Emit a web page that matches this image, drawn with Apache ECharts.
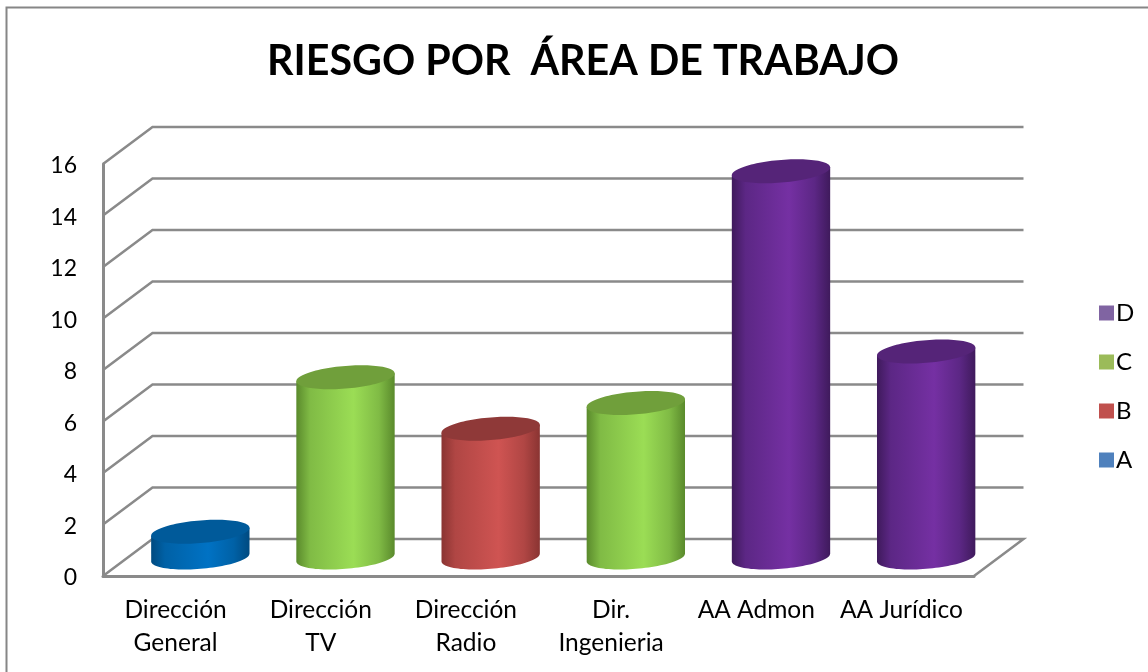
<!DOCTYPE html>
<html lang="es">
<head>
    <meta charset="UTF-8">
    <title>Riesgo por área de trabajo</title>
    <script src="https://cdn.jsdelivr.net/npm/echarts@6/dist/echarts.min.js"></script>
    <style>
        html, body { margin: 0; padding: 0; background: #fff; }
    </style>
</head>
<body>
    <div id="myChart" style="width:1148px;height:672px;"></div>
    <script>
        // datos
        var categories = ['Dirección\nGeneral', 'Dirección\nTV', 'Dirección\nRadio', 'Dir.\nIngenieria', 'AA Admon', 'AA Jurídico'];
        var yTicks = [0, 2, 4, 6, 8, 10, 12, 14, 16];
        var valuesA = [1, null, null, null, null, null];
        var valuesB = [null, null, 5, null, null, null];
        var valuesC = [null, 7, null, 6, null, null];
        var valuesD = [null, null, null, null, 15, 8];

        // profundidad del "3D" en pixeles
        var depthX = 49.5;
        var depthY = 37;
        var radius = 46.5;
        var rimX = 16;
        var rimY = 12;
        var font = 'Lato';
        var lineColor = '#8a8a8a';

        var chart = echarts.init(document.getElementById('myChart'));

        function rimPoint(cx, cy, t) {
            return [cx + radius * Math.cos(t) + rimX * Math.sin(t), cy - rimY * Math.sin(t)];
        }

        function cylinderItem(colors) {
            return function (params, api) {
                var v = api.value(1);
                if (v == null || isNaN(v)) return null;
                var base = api.coord([api.value(0), 0]);
                var top = api.coord([api.value(0), v]);
                var cx = base[0] + depthX / 2;
                var by = base[1] - depthY / 2;
                var ty = top[1] - depthY / 2;
                var t0 = Math.atan2(rimX, radius);
                var body = [];
                var cap = [];
                var i;
                body.push(rimPoint(cx, ty, t0 + Math.PI));
                for (i = 0; i <= 48; i++) {
                    body.push(rimPoint(cx, by, t0 + Math.PI + Math.PI * i / 48));
                }
                body.push(rimPoint(cx, ty, t0));
                for (i = 0; i < 96; i++) {
                    cap.push(rimPoint(cx, ty, Math.PI * 2 * i / 96));
                }
                return {
                    type: 'group',
                    children: [{
                        type: 'polygon',
                        shape: { points: body },
                        style: {
                            fill: new echarts.graphic.LinearGradient(0, 0, 1, 0, [
                                { offset: 0, color: colors.edge },
                                { offset: 0.14, color: colors.mid },
                                { offset: 0.58, color: colors.light },
                                { offset: 0.84, color: colors.mid },
                                { offset: 1, color: colors.edge }
                            ])
                        }
                    }, {
                        type: 'polygon',
                        shape: { points: cap },
                        style: { fill: colors.cap }
                    }]
                };
            };
        }

        function cylinderSeries(name, values, legendColor, colors) {
            return {
                name: name,
                type: 'custom',
                coordinateSystem: 'cartesian2d',
                clip: false,
                z: 5,
                itemStyle: { color: legendColor },
                encode: { x: 0, y: 1 },
                data: values.map(function (v, i) { return [i, v]; }),
                renderItem: cylinderItem(colors)
            };
        }

        var option = {
            animation: false,
            backgroundColor: '#fff',
            title: {
                text: 'RIESGO POR  ÁREA DE TRABAJO',
                left: 578,
                top: 36,
                textAlign: 'center',
                textStyle: { fontFamily: font, fontWeight: 'bold', fontSize: 41.2, color: '#000' }
            },
            legend: {
                data: ['D', 'C', 'B', 'A'],
                orient: 'vertical',
                left: 1094,
                top: 293,
                itemWidth: 15,
                itemHeight: 15,
                itemGap: 19,
                selectedMode: false,
                icon: 'rect',
                textStyle: { fontFamily: font, fontSize: 24, color: '#000', padding: [0, 0, 0, -3], lineHeight: 30 }
            },
            grid: { left: 103, top: 164, width: 871, height: 412 },
            xAxis: {
                type: 'category',
                data: categories,
                axisTick: { show: false },
                axisLine: { lineStyle: { color: lineColor, width: 3 } },
                axisLabel: { fontFamily: font, fontSize: 24.5, color: '#000', lineHeight: 33, margin: 18, interval: 0 }
            },
            yAxis: {
                type: 'value',
                min: 0,
                max: 16,
                interval: 2,
                splitLine: { show: false },
                axisTick: { show: false },
                axisLine: { show: true, lineStyle: { color: lineColor, width: 3 } },
                axisLabel: { fontFamily: font, fontSize: 23, color: '#000', margin: 26, verticalAlign: 'top', lineHeight: 4 }
            },
            series: [{
                // lineas de la pared y el piso
                type: 'custom',
                coordinateSystem: 'cartesian2d',
                silent: true,
                clip: false,
                z: 1,
                encode: { y: 0 },
                data: yTicks,
                renderItem: function (params, api) {
                    var v = api.value(0);
                    var rect = params.coordSys;
                    var y = api.coord([0, v])[1];
                    var left = rect.x;
                    var right = rect.x + rect.width;
                    var pts = [[left, y], [left + depthX, y - depthY], [right + depthX, y - depthY]];
                    if (v === 0) pts.push([right, y]);
                    return {
                        type: 'polyline',
                        shape: { points: pts },
                        style: { stroke: lineColor, lineWidth: 2.5, fill: null }
                    };
                }
            },
                cylinderSeries('D', valuesD, '#8064a2', { edge: '#3f1a5c', mid: '#5c2785', light: '#7530a3', cap: '#552478' }),
                cylinderSeries('C', valuesC, '#9bbb59', { edge: '#5a8a2c', mid: '#80bb45', light: '#9bdd55', cap: '#709f3b' }),
                cylinderSeries('B', valuesB, '#c0504d', { edge: '#8a3432', mid: '#b04644', light: '#cf5452', cap: '#8f3938' }),
                cylinderSeries('A', valuesA, '#4f81bd', { edge: '#004a80', mid: '#0061a6', light: '#0072c4', cap: '#005a9a' })
            ],
            graphic: [{
                type: 'polyline',
                silent: true,
                shape: { points: [[6.5, 672], [6.5, 7.5], [1148, 7.5]] },
                style: { stroke: '#868686', lineWidth: 2, fill: null }
            }]
        };

        chart.setOption(option);
    </script>
</body>
</html>
